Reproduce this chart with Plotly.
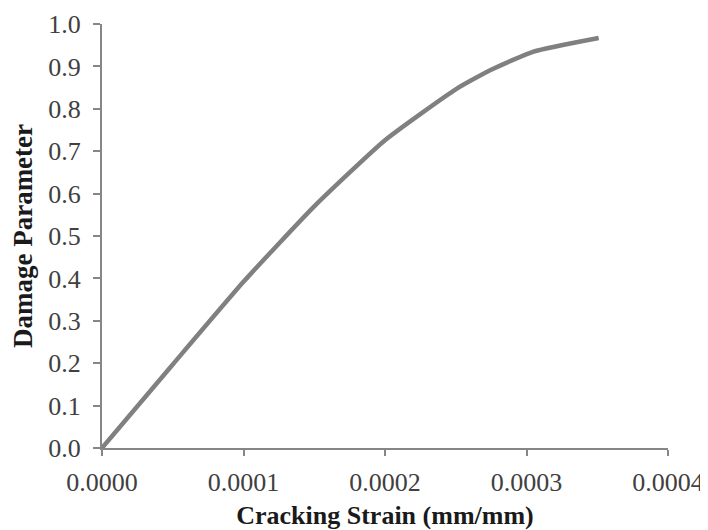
import plotly.graph_objects as go

strain = [0.0, 0.00005, 0.0001, 0.00015, 0.0002, 0.00025, 0.000275, 0.000305, 0.000351]
damage = [0.0, 0.197, 0.392, 0.570, 0.726, 0.846, 0.892, 0.935, 0.967]

x_ticks = [0.0, 0.0001, 0.0002, 0.0003, 0.0004]
x_tick_labels = ["0.0000", "0.0001", "0.0002", "0.0003", "0.0004"]
y_ticks = [0.0, 0.1, 0.2, 0.3, 0.4, 0.5, 0.6, 0.7, 0.8, 0.9, 1.0]
y_tick_labels = ["0.0", "0.1", "0.2", "0.3", "0.4", "0.5", "0.6", "0.7", "0.8", "0.9", "1.0"]

fig = go.Figure()
fig.add_trace(go.Scatter(
    x=strain, y=damage, mode="lines",
    line=dict(color="#808080", width=4.5, shape="spline", smoothing=0.5),
    showlegend=False, hoverinfo="skip",
))

font_family = "Liberation Serif, Times New Roman, serif"
axis_color = "#868686"

# page body has an 8px margin, so the figure is offset by (8, 8) in the window
fig.update_layout(
    width=708, height=530,
    margin=dict(l=94, r=48, t=16, b=90, autoexpand=False),
    paper_bgcolor="white", plot_bgcolor="white",
    font=dict(family=font_family, size=26, color="#404040"),
    xaxis=dict(
        range=[0, 0.0004], tickvals=x_ticks, ticktext=x_tick_labels,
        showgrid=False, zeroline=False, showline=True, linecolor=axis_color, linewidth=2,
        ticks="outside", ticklen=6, tickwidth=2, tickcolor=axis_color,
        ticklabelstandoff=4, automargin=False,
        title=dict(text="<b>Cracking Strain (mm/mm)</b>", font=dict(size=26, color="#1a1a1a"), standoff=10),
    ),
    yaxis=dict(
        range=[0, 1.0], tickvals=y_ticks, ticktext=y_tick_labels,
        showgrid=False, zeroline=False, showline=True, linecolor=axis_color, linewidth=2,
        ticks="outside", ticklen=7, tickwidth=2, tickcolor=axis_color,
        ticklabelstandoff=7, automargin=False,
        title=dict(text="<b>Damage Parameter</b>", font=dict(size=27, color="#1a1a1a"), standoff=8),
    ),
)

fig.write_html("out.html")
